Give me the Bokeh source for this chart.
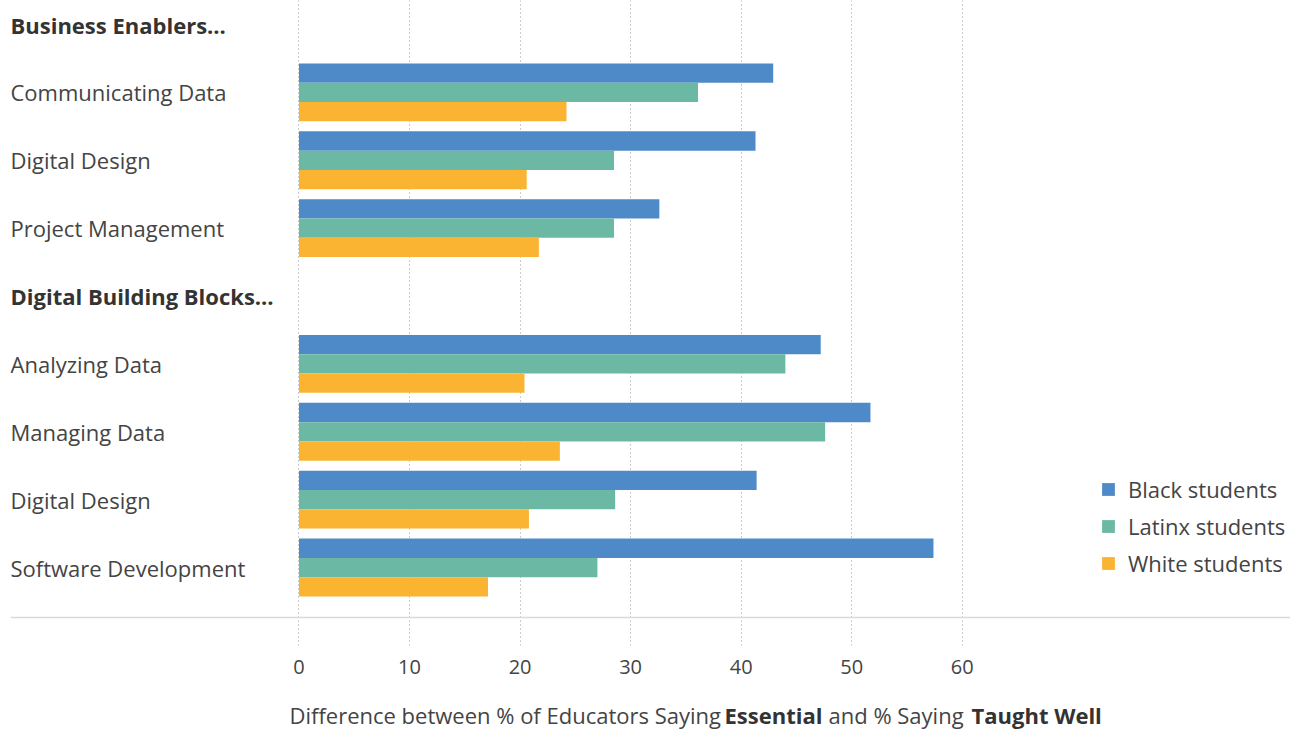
from bokeh.plotting import figure
from bokeh.layouts import column
from bokeh.models import Range1d, FixedTicker, Label, Legend, LegendItem, Span, ColumnDataSource
from bokeh.core.properties import value
from bokeh.transform import dodge
from bokeh.embed import file_html
from bokeh.resources import INLINE

# ---- data ----
row_labels = ["Business Enablers...", "Communicating Data", "Digital Design", "Project Management",
              "Digital Building Blocks...", "Analyzing Data", "Managing Data", "Digital Design",
              "Software Development"]
header_rows = [0, 4]
black = [42.9, 41.3, 32.6, 47.2, 51.7, 41.4, 57.4]
latinx = [36.1, 28.5, 28.5, 44.0, 47.6, 28.6, 27.0]
white = [24.2, 20.6, 21.7, 20.4, 23.6, 20.8, 17.1]
series_names = ["Black students", "Latinx students", "White students"]
x_ticks = [0, 10, 20, 30, 40, 50, 60]
title_parts = [("Difference between % of Educators Saying", "normal"), ("Essential", "bold"),
               ("and % Saying", "normal"), ("Taught Well", "bold")]

# ---- style ----
colors = ["#4E8AC8", "#6BB9A4", "#FBB332"]
FONT = "Open Sans"
TXT = "#444444"
X0, X1 = -26.1, 89.7
Y_TOP, Y_BOTTOM = -0.354, 9.149
BAR_H = 0.284

data_rows = [i for i in range(len(row_labels)) if i not in header_rows]
src = ColumnDataSource(dict(y=data_rows, black=black, latinx=latinx, white=white))

xr = Range1d(X0, X1)
p = figure(width=1300, height=686, x_range=xr, y_range=Range1d(Y_BOTTOM, Y_TOP),
           y_axis_location=None, toolbar_location=None, output_backend="svg",
           min_border_left=10, min_border_right=10, min_border_top=0, min_border_bottom=41,
           outline_line_color=None)
p.background_fill_color = "white"
p.border_fill_color = "white"

renderers = []
for col, off, c in zip(["black", "latinx", "white"], [-BAR_H, 0.0, BAR_H], colors):
    r = p.hbar(y=dodge("y", off, range=p.y_range), left=0, right=col, height=BAR_H,
               fill_color=c, line_color=None, source=src)
    renderers.append(r)

# grid / axis
p.ygrid.visible = False
p.xgrid.ticker = FixedTicker(ticks=x_ticks)
p.xgrid.grid_line_color = "#999999"
p.xgrid.grid_line_dash = "1 3"
p.xgrid.grid_line_width = 1
p.xaxis.ticker = FixedTicker(ticks=x_ticks)
p.xaxis.axis_line_color = None
p.xaxis.major_tick_line_color = None
p.xaxis.minor_tick_line_color = None
p.xaxis.major_label_text_font = FONT
p.xaxis.major_label_text_font_size = "20px"
p.xaxis.major_label_text_color = TXT
p.xaxis.major_label_standoff = 8

p.add_layout(Span(location=len(row_labels) - 1 + 0.737, dimension="width",
                  line_color="#d9d9d9", line_width=1.5))

# row labels
normal_rows = [i for i in range(len(row_labels)) if i not in header_rows]
p.text(x=[X0] * len(normal_rows), y=normal_rows, text=[row_labels[i] for i in normal_rows],
       text_font=value(FONT), text_font_size="22px", text_color=TXT,
       text_baseline="middle", text_align="left")
p.text(x=[X0] * len(header_rows), y=header_rows, text=[row_labels[i] for i in header_rows],
       text_font=value(FONT), text_font_size="22px", text_font_style="bold", text_color="#333333",
       text_baseline="middle", text_align="left")

legend = Legend(items=[LegendItem(label=n, renderers=[r]) for n, r in zip(series_names, renderers)],
                location=(1090, 67), glyph_width=16, glyph_height=16,
                spacing=7, label_standoff=12, padding=0, margin=0,
                label_text_font=FONT, label_text_font_size="22px", label_text_color=TXT,
                border_line_color=None, background_fill_alpha=0)
p.add_layout(legend)

# ---- axis title strip (mixed weights) ----
t = figure(width=1300, height=45, x_range=xr, y_range=Range1d(0, 45),
           x_axis_location=None, y_axis_location=None, toolbar_location=None,
           output_backend="svg", min_border_left=10, min_border_right=10,
           min_border_top=0, min_border_bottom=0, outline_line_color=None)
t.xgrid.visible = False
t.ygrid.visible = False
starts_px = [279, 714, 818, 961]  # offsets from frame left
for (txt, w), sx in zip(title_parts, starts_px):
    t.add_layout(Label(x=sx, y=17, x_units="screen", y_units="screen", text=txt,
                       text_font=FONT, text_font_size="22px", text_font_style=w,
                       text_color="#333333" if w == "bold" else TXT,
                       text_baseline="middle", text_align="left"))

open("out.html", "w").write(file_html(column(p, t, spacing=0), INLINE))
